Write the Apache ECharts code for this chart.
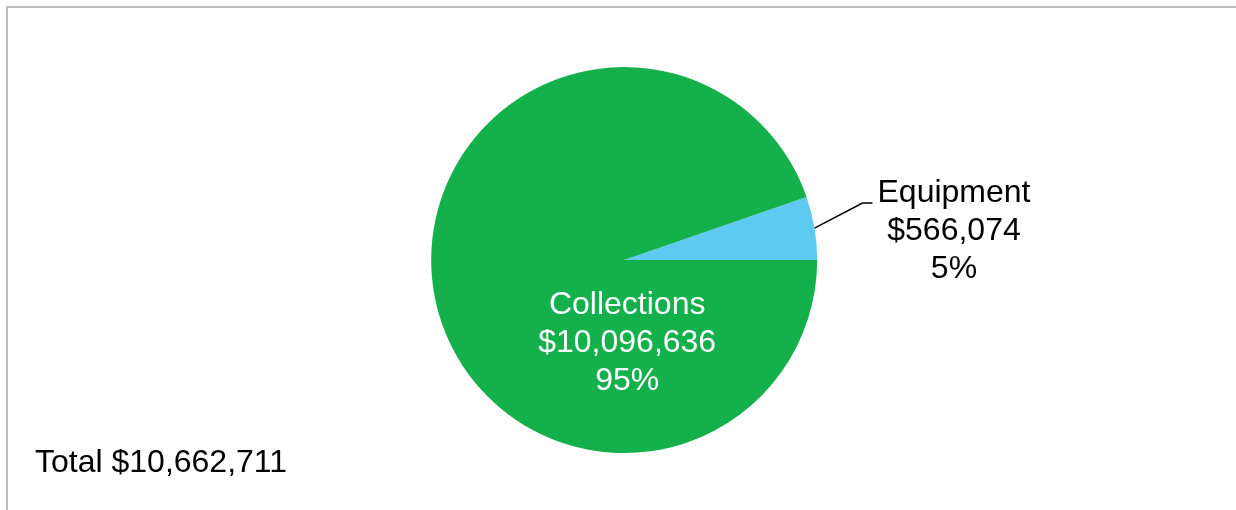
<!DOCTYPE html>
<html>
<head>
<meta charset="utf-8">
<style>
  html, body { margin: 0; padding: 0; background: #fff; }
  #chart { width: 1236px; height: 510px; }
</style>
<script src="https://cdn.jsdelivr.net/npm/echarts@6/dist/echarts.min.js"></script>
</head>
<body>
<div id="chart"></div>
<script>
// Budget split by category
var categories = ['Equipment', 'Collections'];
var amounts = [566074, 10096636];
var sliceColors = ['#5ecaf2', '#14b04c'];
var totalAmount = 10662711;

var FONT = "'Liberation Sans', Arial, Helvetica, sans-serif";

function money(v) {
  return '$' + v.toLocaleString('en-US');
}

var chart = echarts.init(document.getElementById('chart'), null, { renderer: 'canvas' });

var seriesData = categories.map(function (name, i) {
  var item = {
    name: name,
    value: amounts[i],
    itemStyle: { color: sliceColors[i] }
  };
  if (i === 1) {
    item.label = { position: 'inside', color: '#ffffff' };
    item.labelLine = { show: false };
  }
  return item;
});

chart.setOption({
  animation: false,
  graphic: [{
    type: 'rect',
    shape: { x: 7, y: 7, width: 1400, height: 700 },
    style: { fill: 'none', stroke: '#bdbdbd', lineWidth: 2 },
    silent: true
  }, {
    type: 'text',
    left: 35,
    top: 447,
    style: {
      text: 'Total ' + money(totalAmount),
      font: '32px ' + FONT,
      fill: '#000000'
    }
  }],
  series: [{
    type: 'pie',
    center: ['50.5%', '51%'],
    radius: 193,
    startAngle: 0,
    clockwise: false,
    avoidLabelOverlap: false,
    itemStyle: { borderWidth: 0 },
    emphasis: { disabled: true },
    label: {
      show: true,
      position: 'outside',
      color: '#000000',
      fontFamily: FONT,
      fontSize: 32,
      lineHeight: 38,
      align: 'center',
      formatter: function (p) {
        return p.name + '\n' + money(p.value) + '\n' + Math.round(p.percent) + '%';
      }
    },
    labelLine: {
      show: true,
      lineStyle: { color: '#000000', width: 1.5 }
    },
    labelLayout: function (p) {
      if (p.dataIndex === 0) {
        var p0 = p.labelLinePoints[0];
        var bend = [p0[0] + 48, p0[1] - 25];
        var end = [bend[0] + 10, bend[1]];
        return {
          x: end[0] + 5 + p.labelRect.width / 2,
          y: p0[1] + 3,
          align: 'center',
          verticalAlign: 'middle',
          labelLinePoints: [p0, bend, end]
        };
      }
      var cx = p.rect.x + p.rect.width / 2;
      var cy = p.rect.y + p.rect.height / 2;
      return {
        x: cx + 3,
        y: cy + p.rect.height * 0.207 + 3,
        align: 'center',
        verticalAlign: 'middle'
      };
    },
    data: seriesData
  }]
});
</script>
</body>
</html>
